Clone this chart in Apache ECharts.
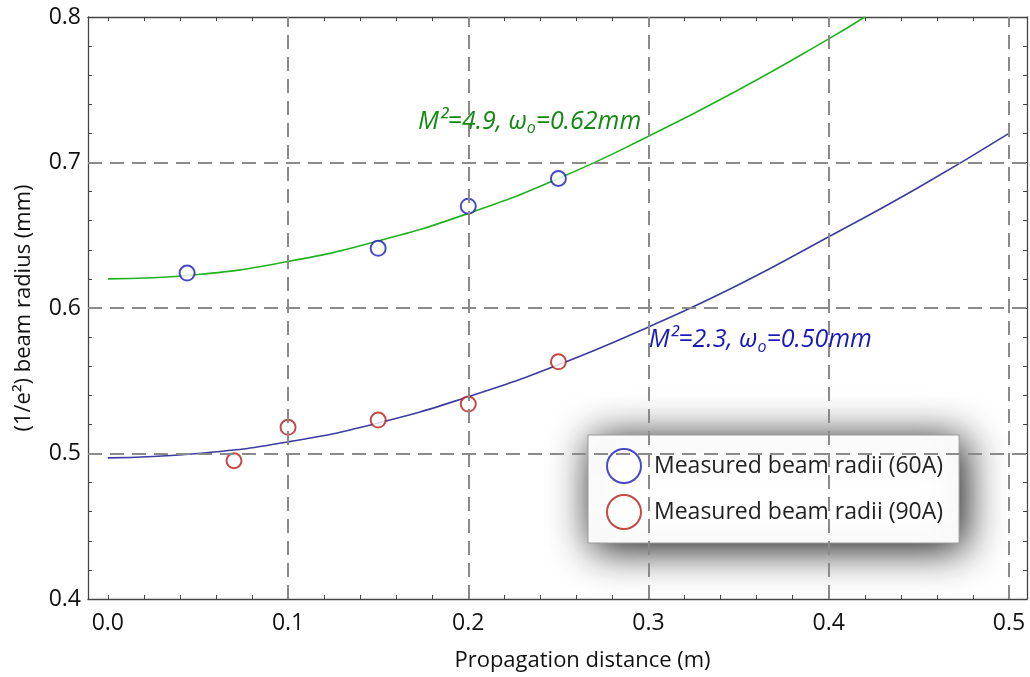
<!DOCTYPE html>
<html><head><meta charset="utf-8">
<script src="https://cdn.jsdelivr.net/npm/echarts@6/dist/echarts.min.js"></script>
<style>html,body{margin:0;padding:0;background:#fff}#c{width:1030px;height:677px}</style>
</head><body><div id="c"></div>
<script>
// ---- data ----
const xTickLabels = [0.0, 0.1, 0.2, 0.3, 0.4, 0.5];
const yTickLabels = [0.4, 0.5, 0.6, 0.7, 0.8];
const gridX = [0.1, 0.2, 0.3, 0.4, 0.5];
const gridY = [0.5, 0.6, 0.7];
const fitGreenX = [0, 0.05, 0.1, 0.15, 0.2, 0.25, 0.3, 0.35, 0.4, 0.42];
const fitGreenY = [0.620, 0.623, 0.632, 0.646, 0.665, 0.689, 0.718, 0.750, 0.785, 0.800];
const fitBlueX = [0, 0.05, 0.1, 0.15, 0.2, 0.25, 0.3, 0.35, 0.4, 0.45, 0.5];
const fitBlueY = [0.497, 0.500, 0.508, 0.521, 0.539, 0.561, 0.587, 0.616, 0.649, 0.683, 0.720];
const meas60X = [0.044, 0.15, 0.2, 0.25];
const meas60Y = [0.624, 0.641, 0.670, 0.689];
const meas90X = [0.07, 0.1, 0.15, 0.2, 0.25];
const meas90Y = [0.495, 0.518, 0.523, 0.534, 0.563];
const seriesNames = ['Measured beam radii (60A)', 'Measured beam radii (90A)'];
const annotGreen = ['M²=4.9, ω', 'o', '=0.62mm'];
const annotGreenAt = [0.234, 0.728];
const annotBlue = ['M²=2.3, ω', 'o', '=0.50mm'];
const annotBlueAt = [0.362, 0.578];
const xTitle = 'Propagation distance (m)';
const yTitle = '(1/e²) beam radius (mm)';

// ---- chart ----
const FONT = 'Open Sans';
const zip = (xs, ys) => xs.map((x, i) => [x, ys[i]]);
const isIn = (list, v) => list.some(t => Math.abs(t - v) < 1e-6);
const axisLineStyle = { color: '#444', width: 1.3 };

function xAxisCfg(pos, show) {
  return {
    type: 'value', position: pos, min: -0.011, max: 0.51,
    splitNumber: 26, minInterval: 0.02, maxInterval: 0.02,
    axisLine: { show: true, onZero: false, lineStyle: axisLineStyle },
    axisTick: { show: true, inside: true, length: 4, lineStyle: { color: '#444', width: 1 } },
    axisLabel: { show: show, interval: 0, margin: 13, fontSize: 23, color: '#111', fontFamily: FONT,
      formatter: v => isIn(xTickLabels, v) ? v.toFixed(1) : '' },
    splitLine: { show: false },
    name: show ? xTitle : '', nameLocation: 'middle', nameGap: 51,
    nameTextStyle: { fontSize: 22, color: '#111', fontFamily: FONT, padding: [0, 0, 0, 50] }
  };
}
function yAxisCfg(pos, show) {
  return {
    type: 'value', position: pos, min: 0.4, max: 0.8, interval: 0.02,
    axisLine: { show: true, onZero: false, lineStyle: axisLineStyle },
    axisTick: { show: true, inside: true, length: 4, lineStyle: { color: '#444', width: 1 } },
    axisLabel: { show: show, interval: 0, margin: 7, fontSize: 23, color: '#111', fontFamily: FONT,
      formatter: v => isIn(yTickLabels, v) ? v.toFixed(1) : '' },
    splitLine: { show: false },
    name: show ? yTitle : '', nameLocation: 'middle', nameGap: 53,
    nameTextStyle: { fontSize: 22, color: '#111', fontFamily: FONT }
  };
}

const chart = echarts.init(document.getElementById('c'), null, { renderer: 'canvas' });
const gridLine = { color: '#8a8a8a', width: 2, type: [14, 8] };
const annotRich = (col) => ({
  a: { fontSize: 25, fontStyle: 'italic', color: col, fontFamily: FONT, lineHeight: 30 },
  s: { fontSize: 16, fontStyle: 'italic', color: col, fontFamily: FONT, lineHeight: 30, verticalAlign: 'bottom', padding: [9, 0, 0, 0] }
});
chart.setOption({
  animation: false,
  backgroundColor: '#fff',
  grid: { left: 88, top: 17, right: 2, bottom: 76, containLabel: false },
  xAxis: [xAxisCfg('bottom', true), xAxisCfg('top', false)],
  yAxis: [yAxisCfg('left', true), yAxisCfg('right', false)],
  legend: {
    data: seriesNames, orient: 'vertical', left: 588, top: 435,
    padding: [13, 16, 13, 18], itemGap: 10, itemWidth: 34, itemHeight: 34,
    backgroundColor: '#fff', borderColor: '#9a9a9a', borderWidth: 1,
    shadowBlur: 42, shadowColor: 'rgba(0,0,0,0.95)', shadowOffsetX: 5, shadowOffsetY: 5,
    textStyle: { fontSize: 23, color: '#222', fontFamily: FONT, padding: [0, 0, 0, 8] },
    itemStyle: { borderWidth: 1.5 },
    selectedMode: false
  },
  series: [
    {
      name: 'grid', type: 'line', data: [], silent: true, z: 1,
      markLine: {
        silent: true, symbol: ['none', 'none'], label: { show: false },
        lineStyle: gridLine, emphasis: { disabled: true },
        data: gridX.map(v => ({ xAxis: v })).concat(gridY.map(v => ({ yAxis: v })))
      }
    },
    {
      name: 'fit60', type: 'line', data: zip(fitGreenX, fitGreenY), smooth: true, showSymbol: false,
      lineStyle: { color: '#1fb41f', width: 1.6 }, itemStyle: { color: '#1fb41f' }, z: 3, silent: true,
      markPoint: {
        symbol: 'circle', symbolSize: 1, itemStyle: { color: 'transparent' }, silent: true,
        label: { show: true, position: 'inside',
          formatter: '{a|' + annotGreen[0] + '}{s|' + annotGreen[1] + '}{a|' + annotGreen[2] + '}',
          rich: annotRich('#148a14') },
        data: [{ coord: annotGreenAt }]
      }
    },
    {
      name: 'fit90', type: 'line', data: zip(fitBlueX, fitBlueY), smooth: true, showSymbol: false,
      lineStyle: { color: '#3b3ba0', width: 1.6 }, itemStyle: { color: '#3b3ba0' }, z: 3, silent: true,
      markPoint: {
        symbol: 'circle', symbolSize: 1, itemStyle: { color: 'transparent' }, silent: true,
        label: { show: true, position: 'inside',
          formatter: '{a|' + annotBlue[0] + '}{s|' + annotBlue[1] + '}{a|' + annotBlue[2] + '}',
          rich: annotRich('#1a1ab8') },
        data: [{ coord: annotBlueAt }]
      }
    },
    {
      name: seriesNames[0], type: 'scatter', data: zip(meas60X, meas60Y),
      symbol: 'emptyCircle', symbolSize: 15, z: 4,
      itemStyle: { color: '#1c1cb4', borderWidth: 1.5 }
    },
    {
      name: seriesNames[1], type: 'scatter', data: zip(meas90X, meas90Y),
      symbol: 'emptyCircle', symbolSize: 15, z: 4,
      itemStyle: { color: '#b81c1c', borderWidth: 1.5 }
    }
  ]
});
</script>
</body></html>
